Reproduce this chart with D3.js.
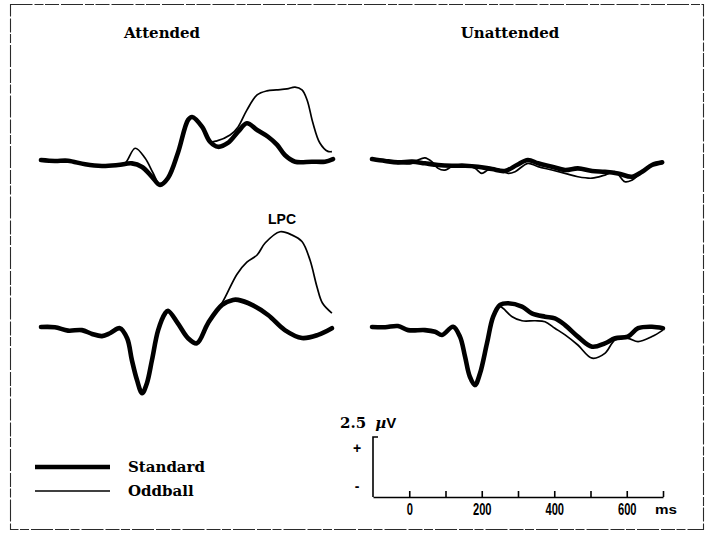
<!DOCTYPE html>
<html>
<head>
<meta charset="utf-8">
<script src="https://cdn.jsdelivr.net/npm/d3@7"></script>
<style>
  html, body { margin: 0; padding: 0; background: #fff; }
  svg { display: block; }
</style>
</head>
<body>
<svg id="chart" width="706" height="535"></svg>
<script>
// ERP grand averages: [time in ms, amplitude in µV], positive up
const attendedTopStandard = [
  [-100,0],[-62,-0.04],[-26,-0.03],[21,-0.18],[67,-0.25],[111,-0.21],[149,-0.14],[177,-0.29],
  [204,-0.70],[226,-1.04],[248,-0.75],[275,0.29],[303,1.67],[314,1.79],[341,1.39],[363,0.76],
  [385,0.55],[412,0.71],[440,1.18],[464,1.53],[492,1.25],[522,0.97],[547,0.63],[568,0.21],
  [596,-0.07],[642,-0.07],[678,-0.07],[700,0.04]
];
const attendedTopOddball = [
  [-100,0],[-62,-0.04],[-26,-0.03],[21,-0.18],[67,-0.25],[111,-0.18],[130,-0.14],[158,0.49],
  [185,0.08],[207,-0.54],[224,-0.98],[248,-0.72],[275,0.29],[303,1.67],[314,1.79],[341,1.39],
  [363,0.78],[382,0.80],[418,1.04],[440,1.38],[464,2.08],[492,2.71],[519,2.88],[545,2.92],
  [574,2.96],[596,3.04],[615,2.92],[629,2.50],[645,1.54],[664,0.71],[686,0.36],[697,0.35]
];
const attendedBottomStandard = [
  [-100,0],[-62,-0.01],[-26,-0.15],[12,-0.13],[40,-0.29],[67,-0.38],[89,-0.26],[116,-0.05],
  [136,-0.47],[149,-1.38],[163,-2.21],[177,-2.76],[190,-2.35],[204,-1.38],[221,-0.13],[240,0.57],
  [248,0.68],[275,0.15],[303,-0.47],[327,-0.68],[358,0.17],[396,0.92],[426,1.13],[440,1.13],
  [478,0.92],[522,0.50],[568,-0.13],[615,-0.46],[659,-0.33],[697,-0.05]
];
const attendedBottomOddball = [
  [-100,0],[-62,-0.01],[-26,-0.15],[12,-0.13],[40,-0.29],[67,-0.38],[89,-0.26],[116,-0.05],
  [136,-0.47],[149,-1.38],[163,-2.21],[177,-2.76],[190,-2.35],[204,-1.38],[221,-0.13],[240,0.57],
  [248,0.68],[275,0.15],[303,-0.47],[327,-0.68],[358,0.17],[396,1.00],[437,2.20],[464,2.70],
  [492,3.00],[514,3.50],[555,3.97],[588,3.83],[615,3.56],[637,2.79],[656,1.68],[671,1.00],[697,0.58]
];
const unattendedTopStandard = [
  [-100,0],[-64,-0.08],[-29,-0.14],[10,-0.11],[45,-0.18],[81,-0.25],[119,-0.28],[155,-0.28],
  [190,-0.32],[229,-0.42],[264,-0.50],[297,-0.25],[327,-0.04],[355,-0.18],[393,-0.32],[429,-0.46],
  [464,-0.39],[503,-0.50],[538,-0.53],[574,-0.60],[612,-0.74],[640,-0.53],[667,-0.25],[695,-0.14]
];
const unattendedTopOddball = [
  [-100,0],[-29,-0.18],[10,-0.18],[26,-0.04],[45,0.05],[64,-0.11],[81,-0.39],[100,-0.46],
  [119,-0.32],[155,-0.25],[182,-0.39],[201,-0.60],[218,-0.46],[245,-0.42],[273,-0.60],[292,-0.53],
  [327,-0.18],[355,-0.32],[393,-0.46],[429,-0.60],[464,-0.74],[503,-0.80],[538,-0.67],[566,-0.53],
  [593,-0.95],[612,-0.88],[640,-0.53],[667,-0.25],[695,-0.14]
];
const unattendedBottomStandard = [
  [-100,0],[-64,-0.01],[-29,0.04],[-1,-0.13],[45,-0.13],[73,-0.20],[92,-0.33],[122,0.01],
  [141,-0.40],[155,-1.24],[168,-2.07],[182,-2.42],[196,-1.93],[215,-0.68],[232,0.43],[251,0.92],
  [273,0.99],[311,0.85],[338,0.57],[374,0.43],[401,0.36],[429,0.08],[464,-0.40],[503,-0.82],
  [538,-0.68],[566,-0.47],[601,-0.40],[629,-0.05],[667,0.01],[697,-0.05]
];
const unattendedBottomOddball = [
  [-100,0],[-64,-0.01],[-29,0.04],[-1,-0.13],[45,-0.13],[73,-0.20],[92,-0.33],[122,0.01],
  [141,-0.40],[155,-1.24],[168,-2.07],[182,-2.42],[196,-1.93],[215,-0.68],[232,0.43],[251,0.85],
  [259,0.78],[284,0.43],[311,0.26],[347,0.26],[374,0.22],[401,-0.05],[429,-0.33],[464,-0.75],
  [503,-1.30],[538,-1.10],[566,-0.54],[601,-0.47],[629,-0.61],[667,-0.40],[697,-0.13]
];

const columnTitles = ["Attended", "Unattended"];
const seriesNames = ["Standard", "Oddball"];
const timeTicks = [0, 100, 200, 300, 400, 500, 600, 700];
const timeLabels = [0, 200, 400, 600];
const scaleBarMicrovolts = 2.5;
const timeDomain = [-100, 700];

const svg = d3.select("#chart");
const serif = "'DejaVu Serif', 'Liberation Serif', serif";
const sans = "'Liberation Sans', Arial, sans-serif";

// frame around the figure
svg.append("rect")
  .attr("x", 10.5).attr("y", 4.5).attr("width", 693).attr("height", 525)
  .attr("fill", "none").attr("stroke", "#2a2a2a").attr("stroke-width", 1.1)
  .attr("stroke-dasharray", "22,2,9,1.5,14,2");

const plotWidth = 292;
const uvPerPx = 24; // pixels per microvolt
const columns = [41, 372];
const rows = [
  { baseline: [160, 159] },
  { baseline: [327, 327] }
];
const panels = [
  { col: 0, row: 0, std: attendedTopStandard, odd: attendedTopOddball },
  { col: 1, row: 0, std: unattendedTopStandard, odd: unattendedTopOddball },
  { col: 0, row: 1, std: attendedBottomStandard, odd: attendedBottomOddball },
  { col: 1, row: 1, std: unattendedBottomStandard, odd: unattendedBottomOddball }
];

const styles = {
  std: { width: 4.6 },
  odd: { width: 1.7 }
};

panels.forEach(p => {
  const x0 = columns[p.col];
  const base = rows[p.row].baseline[p.col];
  const x = d3.scaleLinear().domain(timeDomain).range([x0, x0 + plotWidth]);
  const y = d3.scaleLinear().domain([0, 1]).range([base, base - uvPerPx]);
  const line = d3.line()
    .x(d => x(d[0])).y(d => y(d[1]))
    .curve(d3.curveCatmullRom.alpha(0.5));
  const g = svg.append("g");
  g.append("path").datum(p.odd)
    .attr("d", line).attr("fill", "none").attr("stroke", "#000")
    .attr("stroke-width", styles.odd.width).attr("stroke-linejoin", "round");
  g.append("path").datum(p.std)
    .attr("d", line).attr("fill", "none").attr("stroke", "#000")
    .attr("stroke-width", styles.std.width).attr("stroke-linejoin", "round")
    .attr("stroke-linecap", "round");
});

// column titles
[162, 510].forEach((cx, i) => {
  svg.append("text")
    .attr("x", cx).attr("y", 38)
    .attr("text-anchor", "middle")
    .attr("font-family", serif).attr("font-weight", "bold").attr("font-size", 15)
    .text(columnTitles[i]);
});

// LPC label
svg.append("text")
  .attr("x", 282).attr("y", 224).attr("text-anchor", "middle")
  .attr("font-family", sans).attr("font-weight", "bold").attr("font-size", 14)
  .text("LPC");

// legend
const legend = svg.append("g");
seriesNames.forEach((name, i) => {
  const ly = [467, 491][i];
  legend.append("line")
    .attr("x1", 35).attr("x2", 110).attr("y1", ly).attr("y2", ly)
    .attr("stroke", "#000")
    .attr("stroke-width", i === 0 ? styles.std.width : styles.odd.width);
  legend.append("text")
    .attr("x", 128).attr("y", ly + 5)
    .attr("font-family", serif).attr("font-weight", "bold").attr("font-size", 15)
    .text(name);
});

// calibration: voltage bar and time axis
const barX = d3.scaleLinear().domain(timeDomain).range([373, 663]);
const barY = d3.scaleLinear().domain([0, scaleBarMicrovolts]).range([497, 437]);

const axis = d3.axisBottom(barX)
  .tickValues(timeTicks)
  .tickSizeInner(-6).tickSizeOuter(0).tickPadding(7)
  .tickFormat(d => timeLabels.includes(d) ? String(d) : "");
const ax = svg.append("g").attr("transform", `translate(0,${barY(0)})`).call(axis);
ax.select(".domain").attr("stroke", "#000").attr("stroke-width", 1.6);
ax.selectAll(".tick line").attr("stroke", "#000").attr("stroke-width", 1.6);
ax.selectAll(".tick text")
  .attr("font-family", sans).attr("font-weight", "bold").attr("font-size", 16)
  .attr("fill", "#000")
  .attr("textLength", d => String(d).length * 6.2)
  .attr("lengthAdjust", "spacingAndGlyphs");

svg.append("path")
  .attr("d", `M${barX(-100)},${barY(0)}V${barY(scaleBarMicrovolts)}h5`)
  .attr("fill", "none").attr("stroke", "#000").attr("stroke-width", 1.6);

svg.append("text")
  .attr("x", 666).attr("y", 514).attr("text-anchor", "middle")
  .attr("font-family", sans).attr("font-weight", "bold").attr("font-size", 13)
  .attr("textLength", 22).attr("lengthAdjust", "spacingAndGlyphs")
  .text("ms");

const cal = svg.append("text").attr("x", 340).attr("y", 428)
  .attr("font-weight", "bold").attr("font-size", 15);
cal.append("tspan").attr("font-family", serif).text("2.5 ");
cal.append("tspan").attr("font-family", serif).attr("font-style", "italic").attr("dx", 4).text("µ");
cal.append("tspan").attr("font-family", sans).text("V");

svg.append("text").attr("x", 357).attr("y", 453).attr("text-anchor", "middle")
  .attr("font-family", sans).attr("font-weight", "bold").attr("font-size", 14).text("+");
svg.append("text").attr("x", 357).attr("y", 491).attr("text-anchor", "middle")
  .attr("font-family", sans).attr("font-weight", "bold").attr("font-size", 14).text("-");
</script>
</body>
</html>
